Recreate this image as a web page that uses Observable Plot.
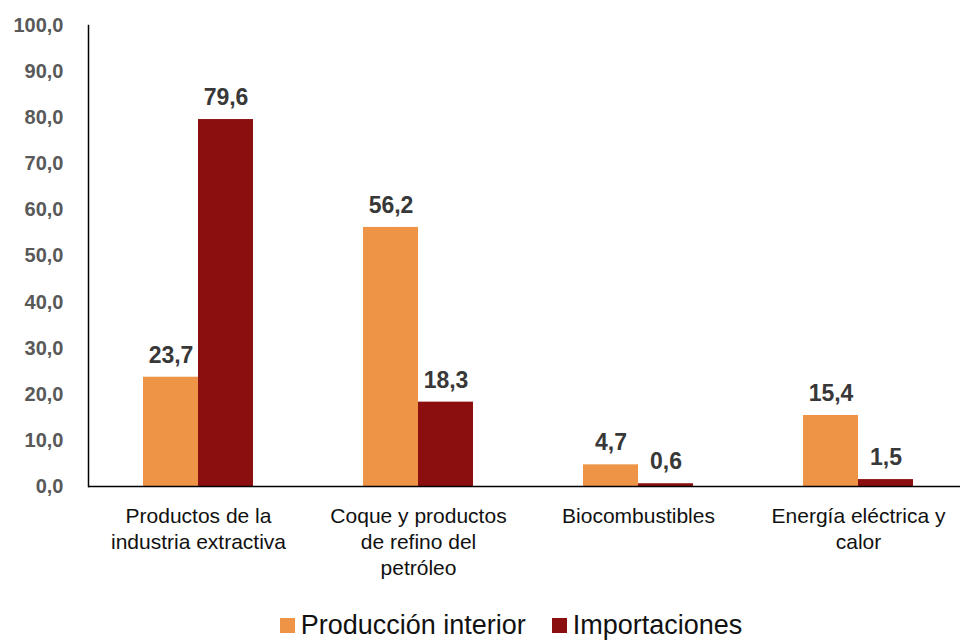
<!DOCTYPE html>
<html>
<head>
<meta charset="utf-8">
<script src="https://cdn.jsdelivr.net/npm/d3@7"></script>
<script src="https://cdn.jsdelivr.net/npm/@observablehq/plot@0.6"></script>
<style>
  html, body { margin: 0; padding: 0; background: #fff; }
  #chart svg { display: block; overflow: visible; }
  #legend { font-family: "Liberation Sans", Arial, sans-serif; font-size: 27px; color: #111;
            display: flex; justify-content: center; align-items: center; gap: 26px;
            padding-top: 12px; line-height: 30px; margin-left: 62px; }
  .item { display: flex; align-items: center; gap: 6px; }
  .sw { width: 15px; height: 15px; display: inline-block; }
</style>
</head>
<body>
<div id="chart"></div>
<div id="legend"></div>
<script>
const categories = [
  "Productos de la\nindustria extractiva",
  "Coque y productos\nde refino del\npetróleo",
  "Biocombustibles",
  "Energía eléctrica y\ncalor"
];
const series = ["Producción interior", "Importaciones"];
const produccion = [23.7, 56.2, 4.7, 15.4];
const importaciones = [79.6, 18.3, 0.6, 1.5];
const colors = ["#EE9447", "#8B0F0F"];
const yTicks = [0, 10, 20, 30, 40, 50, 60, 70, 80, 90, 100];

const data = [];
categories.forEach((c, i) => {
  data.push({cat: c, serie: series[0], value: produccion[i]});
  data.push({cat: c, serie: series[1], value: importaciones[i]});
});
const fmt = v => v.toFixed(1).replace(".", ",");

const plot = Plot.plot({
  width: 960,
  height: 598,
  marginTop: 25,
  marginBottom: 112,
  marginLeft: 88,
  marginRight: -8,
  style: {fontFamily: "Liberation Sans, Arial, sans-serif", background: "#fff"},
  fx: {domain: categories, padding: 0, label: null},
  x: {domain: series, paddingInner: 0, paddingOuter: 1, axis: null},
  y: {domain: [0, 100], label: null},
  color: {domain: series, range: colors},
  marks: [
    Plot.axisY({ticks: yTicks, tickSize: 0, tickPadding: 25, tickFormat: fmt,
                fontSize: 20, fontWeight: "bold", fill: "#595959", label: null}),
    Plot.frame({anchor: "left", facetAnchor: "left", stroke: "#000", strokeWidth: 1.5}),
    Plot.axisFx({anchor: "bottom", tickSize: 0, tickPadding: 18, fontSize: 21,
                 lineHeight: 1.24, fill: "#111", label: null}),
    Plot.barY(data, {fx: "cat", x: "serie", y: "value", fill: "serie"}),
    Plot.ruleY([0], {stroke: "#000", strokeWidth: 1.5}),
    Plot.text(data, {fx: "cat", x: "serie", y: "value", text: d => fmt(d.value),
                     dy: -22, fontSize: 23, fontWeight: "bold", fill: "#383838"})
  ]
});
document.getElementById("chart").append(plot);

const legend = document.getElementById("legend");
series.forEach((s, i) => {
  const it = document.createElement("span");
  it.className = "item";
  const sw = document.createElement("span");
  sw.className = "sw";
  sw.style.background = colors[i];
  it.append(sw, document.createTextNode(s));
  legend.append(it);
});
</script>
</body>
</html>
